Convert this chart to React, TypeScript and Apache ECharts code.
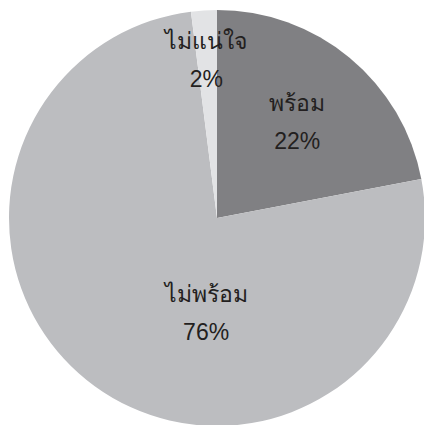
import React, { useEffect, useRef } from "react";
import * as echarts from "echarts";

const categories = ["พร้อม", "ไม่พร้อม", "ไม่แน่ใจ"];
const values = [22, 76, 2];
const colors = ["#808083", "#bcbdc0", "#e2e3e5"];
// label nudges from the default inside position (dx, dy)
const labelShift = [
  [12, -14],
  [52, 8],
  [-4, -51],
];

export default function App() {
  const ref = useRef<HTMLDivElement>(null);
  useEffect(() => {
    if (!ref.current) return;
    const chart = echarts.init(ref.current, null, { renderer: "svg" });
    chart.setOption({
      animation: false,
      backgroundColor: "#ffffff",
      series: [
        {
          type: "pie",
          center: [217, 218],
          radius: [0, 208],
          startAngle: 90,
          clockwise: true,
          silent: true,
          data: categories.map((name, i) => ({
            name,
            value: values[i],
            itemStyle: { color: colors[i] },
          })),
          label: {
            show: true,
            position: "inside",
            formatter: (p: any) => `${p.name}\n${p.value}%`,
            color: "#231f20",
            fontSize: 23,
            lineHeight: 38,
            fontFamily: "'Liberation Sans', sans-serif",
          },
          labelLayout: (p: any) => ({
            dx: labelShift[p.dataIndex][0],
            dy: labelShift[p.dataIndex][1],
          }),
          labelLine: { show: false },
        },
      ],
    });
    return () => chart.dispose();
  }, []);
  return (
    <div
      ref={ref}
      style={{ position: "fixed", left: 0, top: 0, width: 424, height: 425 }}
    />
  );
}
